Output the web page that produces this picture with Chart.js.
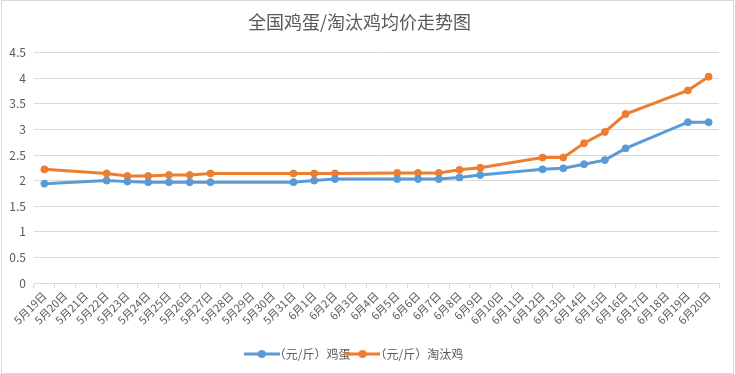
<!DOCTYPE html>
<html>
<head>
<meta charset="utf-8">
<script src="https://cdn.jsdelivr.net/npm/chart.js@4"></script>
<style>
	body { margin: 0; background: #fff; }
	#wrap { width: 735px; height: 374px; position: relative; }
</style>
</head>
<body>
<div id="wrap"><canvas id="priceChart" width="735" height="374"></canvas></div>
<script>
// 日期 5月19日 - 6月20日
const days = [
	"5月19日", "5月20日", "5月21日", "5月22日", "5月23日", "5月24日", "5月25日", "5月26日", "5月27日",
	"5月28日", "5月29日", "5月30日", "5月31日", "6月1日", "6月2日", "6月3日", "6月4日", "6月5日",
	"6月6日", "6月7日", "6月8日", "6月9日", "6月10日", "6月11日", "6月12日", "6月13日", "6月14日",
	"6月15日", "6月16日", "6月17日", "6月18日", "6月19日", "6月20日"
];
// null = 当天无报价
const eggPrice = [
	1.94, null, null, 2.00, 1.98, 1.97, 1.97, 1.97, 1.97,
	null, null, null, 1.97, 2.00, 2.03, null, null, 2.03,
	2.03, 2.03, 2.06, 2.11, null, null, 2.22, 2.24, 2.32,
	2.40, 2.63, null, null, 3.14, 3.14
];
const henPrice = [
	2.22, null, null, 2.14, 2.09, 2.09, 2.11, 2.11, 2.14,
	null, null, null, 2.14, 2.14, 2.14, null, null, 2.15,
	2.15, 2.15, 2.21, 2.25, null, null, 2.45, 2.45, 2.73,
	2.95, 3.30, null, null, 3.76, 4.03
];
const seriesNames = ["（元/斤）鸡蛋", "（元/斤）淘汰鸡"];
const yTicks = [0, 0.5, 1, 1.5, 2, 2.5, 3, 3.5, 4, 4.5];

const blue = "#5B9BD5";
const orange = "#ED7D31";
const font = "'Noto Sans CJK SC', 'Microsoft YaHei', sans-serif";

// legend marker: short line with a dot
function legendMark(color) {
	c = document.createElement("canvas");
	c.width = 36; c.height = 10;
	g = c.getContext("2d");
	g.strokeStyle = color;
	g.lineWidth = 3;
	g.beginPath(); g.moveTo(0, 5); g.lineTo(36, 5); g.stroke();
	g.fillStyle = color;
	g.beginPath(); g.arc(18, 5, 4, 0, Math.PI * 2); g.fill();
	return c;
}

const borderBox = {
	id: "borderBox",
	afterDraw(chart) {
		ctx = chart.ctx;
		ctx.save();
		ctx.strokeStyle = "#d9d9d9";
		ctx.lineWidth = 1;
		ctx.strokeRect(1.5, 0.5, 732, 373);
		ctx.restore();
	}
};

function makeSet(label, data, color) {
	return {
		label: label,
		data: data,
		borderColor: color,
		backgroundColor: color,
		borderWidth: 3,
		pointRadius: 3.5,
		pointHoverRadius: 3.5,
		pointBackgroundColor: color,
		pointBorderColor: color,
		pointBorderWidth: 1,
		spanGaps: true,
		tension: 0
	};
}

new Chart(document.getElementById("priceChart"), {
	type: "line",
	data: {
		labels: days,
		datasets: [
			makeSet(seriesNames[0], eggPrice, blue),
			makeSet(seriesNames[1], henPrice, orange)
		]
	},
	options: {
		responsive: false,
		animation: false,
		layout: { padding: { left: 0, right: 16, top: 2, bottom: 4 } },
		plugins: {
			title: {
				display: true,
				text: "全国鸡蛋/淘汰鸡均价走势图",
				color: "#595959",
				font: { family: font, size: 18, weight: "normal" },
				padding: { top: 9, bottom: 20 }
			},
			legend: {
				position: "bottom",
				labels: {
					color: "#595959",
					font: { family: font, size: 12 },
					usePointStyle: true,
					padding: 6,
					generateLabels(chart) {
						return chart.data.datasets.map((ds, i) => ({
							text: ds.label,
							fillStyle: ds.borderColor,
							strokeStyle: ds.borderColor,
							fontColor: "#595959",
							pointStyle: legendMark(ds.borderColor),
							datasetIndex: i,
							hidden: false
						}));
					}
				}
			},
			tooltip: { enabled: false }
		},
		scales: {
			x: {
				offset: true,
				grid: {
					offset: true,
					drawOnChartArea: false,
					drawTicks: true,
					tickLength: 5,
					color: "#d9d9d9"
				},
				border: { color: "#d9d9d9" },
				ticks: {
					color: "#595959",
					font: { family: font, size: 11 },
					autoSkip: false,
					maxRotation: 45,
					minRotation: 45,
					padding: 1
				},
				afterFit(scale) { scale.height = 59; }
			},
			y: {
				min: 0,
				max: 4.5,
				afterBuildTicks(scale) { scale.ticks = yTicks.map(v => ({ value: v })); },
				grid: { color: "#d9d9d9", drawTicks: false },
				border: { display: false },
				ticks: {
					color: "#595959",
					font: { family: font, size: 12 },
					padding: 8,
					callback: v => String(v)
				},
				afterFit(scale) { scale.width = 34; }
			}
		}
	},
	plugins: [borderBox]
});
</script>
</body>
</html>
